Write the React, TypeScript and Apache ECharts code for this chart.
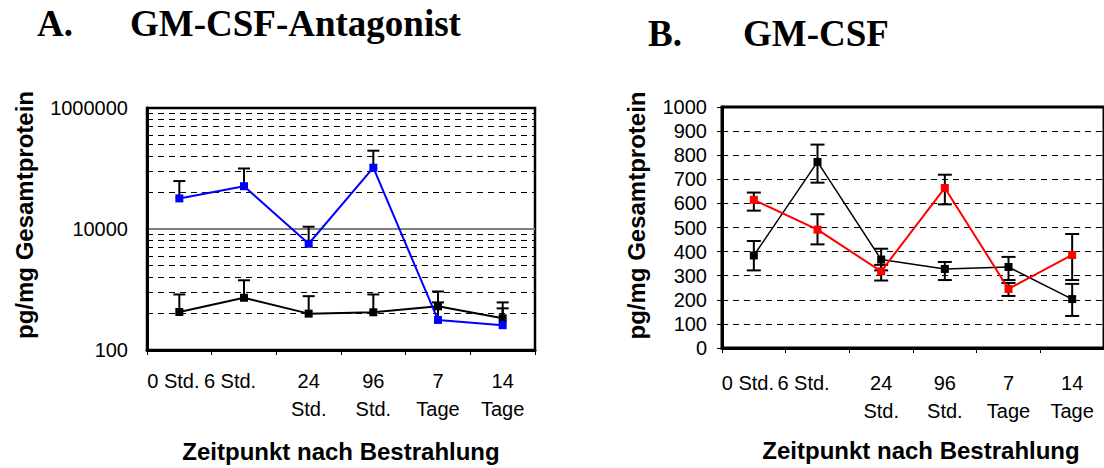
import React, { useEffect, useRef } from "react";
import * as echarts from "echarts";

const categories = ["0 Std.", "6 Std.", "24\nStd.", "96\nStd.", "7\nTage", "14\nTage"];

// Panel A (log scale)
const aBlue = [32000, 51000, 5700, 103000, 314, 257];
const aBlueUpper = [62000, 100000, 10900, 197000, 612, 488];
const aBlack = [425, 730, 399, 420, 527, 335];
const aBlackUpper = [828, 1420, 776, 828, 927, 612];
const aMinorGrid = [400, 900, 1600, 2500, 3600, 4900, 6400, 8100, 40000, 90000, 160000, 250000, 360000, 490000, 640000, 810000];
const aTicks = [100, 10000, 1000000];

// Panel B (linear scale)
const bBlack = [384, 772, 367, 328, 336, 203];
const bBlackLow = [322, 686, 322, 282, 282, 133];
const bBlackHigh = [444, 844, 412, 357, 378, 266];
const bRed = [615, 491, 318, 664, 245, 386];
const bRedLow = [570, 430, 280, 596, 216, 282];
const bRedHigh = [645, 555, 345, 719, 270, 473];

const SANS = "'Liberation Sans', Arial, sans-serif";
const SERIF = "'Liberation Serif', 'Times New Roman', serif";

function errData(low: number[], high: number[]) {
  return low.map((l, i) => [i, l, high[i]]);
}

function makeErr(capHalf: number, lowerCap: boolean) {
  return (params: any, api: any) => {
    const x = api.value(0);
    const lo = api.value(1);
    const hi = api.value(2);
    const pLo = api.coord([x, lo]);
    const pHi = api.coord([x, hi]);
    const style = { stroke: "#000", lineWidth: 2 };
    const children: any[] = [
      { type: "line", shape: { x1: pLo[0], y1: pLo[1], x2: pHi[0], y2: pHi[1] }, style },
      { type: "line", shape: { x1: pHi[0] - capHalf, y1: pHi[1], x2: pHi[0] + capHalf, y2: pHi[1] }, style },
    ];
    if (lowerCap) {
      children.push({ type: "line", shape: { x1: pLo[0] - capHalf, y1: pLo[1], x2: pLo[0] + capHalf, y2: pLo[1] }, style });
    }
    return { type: "group", children };
  };
}

export default function App() {
  const ref = useRef<HTMLDivElement>(null);
  useEffect(() => {
    if (!ref.current) return;
    const chart = echarts.init(ref.current, null, { renderer: "svg" });
    const base = { fontFamily: SANS, fontSize: 20, color: "#000", lineHeight: 28 };
    const axisLabelX = {
      ...base,
      interval: 0,
      formatter: (v: string, i: number) => (i === 0 ? `{a|${v}}` : i === 1 ? `{b|${v}}` : v),
      rich: {
        a: { ...base, padding: [0, 12, 0, 0] },
        b: { ...base, padding: [0, 28, 0, 0] },
      },
    };
    const nameStyle = { fontFamily: SANS, fontSize: 24, fontWeight: "bold" as const, color: "#000" };
    const titleFont = `bold 37px ${SERIF}`;
    chart.setOption({
      animation: false,
      backgroundColor: "#fff",
      graphic: [
        { type: "text", x: 37, y: 23, style: { text: "A.", font: titleFont, fill: "#000", verticalAlign: "middle" } },
        { type: "text", x: 130, y: 23, style: { text: "GM-CSF-Antagonist", font: titleFont, fill: "#000", verticalAlign: "middle" } },
        { type: "text", x: 648, y: 33, style: { text: "B.", font: titleFont, fill: "#000", verticalAlign: "middle" } },
        { type: "text", x: 743, y: 33, style: { text: "GM-CSF", font: titleFont, fill: "#000", verticalAlign: "middle" } },
      ],
      grid: [
        { left: 147, top: 108, width: 388, height: 244, show: true, borderColor: "#000", borderWidth: 2.5, backgroundColor: "transparent" },
        { left: 722, top: 107, width: 384, height: 241, show: true, borderColor: "#000", borderWidth: 3, backgroundColor: "transparent" },
      ],
      xAxis: [
        {
          type: "category",
          gridIndex: 0,
          data: categories,
          boundaryGap: true,
          axisLine: { lineStyle: { color: "#000", width: 3 } },
          axisTick: { show: true, length: 5, lineStyle: { color: "#000", width: 1 } },
          axisLabel: { ...axisLabelX, margin: 17 },
          name: "Zeitpunkt nach Bestrahlung",
          nameLocation: "middle",
          nameGap: 89,
          nameTextStyle: nameStyle,
        },
        {
          type: "category",
          gridIndex: 1,
          data: categories,
          boundaryGap: true,
          axisLine: { lineStyle: { color: "#000", width: 3 } },
          axisTick: { show: true, length: 5, lineStyle: { color: "#000", width: 1 } },
          axisLabel: { ...axisLabelX, margin: 21 },
          name: "Zeitpunkt nach Bestrahlung",
          nameLocation: "middle",
          nameGap: 90,
          nameTextStyle: { ...nameStyle, padding: [0, 0, 0, 16] },
        },
      ],
      yAxis: [
        {
          type: "log",
          gridIndex: 0,
          logBase: 100,
          min: aTicks[0],
          max: aTicks[2],
          axisLine: { show: true, lineStyle: { color: "#000", width: 3 } },
          axisTick: { show: false },
          axisLabel: {
            fontFamily: SANS,
            fontSize: 20,
            color: "#000",
            margin: 19,
            formatter: (v: number) => String(Math.round(v)),
          },
          splitLine: { show: true, lineStyle: { color: ["#000", "#808080", "#000"], width: 2, type: "solid" } },
          name: "pg/mg Gesamtprotein",
          nameLocation: "middle",
          nameGap: 111,
          nameTextStyle: { ...nameStyle, padding: [0, 0, 0, 28] },
        },
        {
          type: "value",
          gridIndex: 1,
          min: 0,
          max: 1000,
          interval: 100,
          axisLine: { show: true, lineStyle: { color: "#000", width: 3 } },
          axisTick: { show: true, length: 5, lineStyle: { color: "#000", width: 1 } },
          axisLabel: {
            fontFamily: SANS,
            fontSize: 20,
            color: "#000",
            margin: 15,
            formatter: (v: number) => String(v),
          },
          splitLine: { show: true, lineStyle: { color: "#000", width: 1, type: [6, 5] } },
          name: "pg/mg Gesamtprotein",
          nameLocation: "middle",
          nameGap: 74,
          nameTextStyle: { ...nameStyle, padding: [0, 0, 0, 24] },
        },
      ],
      series: [
        {
          type: "line",
          xAxisIndex: 0,
          yAxisIndex: 0,
          data: aBlack,
          symbol: "rect",
          symbolSize: 8,
          itemStyle: { color: "#000" },
          lineStyle: { color: "#000", width: 2 },
          z: 3,
          markLine: {
            silent: true,
            symbol: "none",
            label: { show: false },
            lineStyle: { color: "#000", width: 1, type: [6, 5] },
            data: aMinorGrid.map((v) => ({ yAxis: v })),
            z: 1,
          },
        },
        {
          type: "custom",
          xAxisIndex: 0,
          yAxisIndex: 0,
          data: errData(aBlack, aBlackUpper),
          renderItem: makeErr(6, false),
          z: 2,
        },
        {
          type: "custom",
          xAxisIndex: 0,
          yAxisIndex: 0,
          data: errData(aBlue, aBlueUpper),
          renderItem: makeErr(6, false),
          z: 2,
        },
        {
          type: "line",
          xAxisIndex: 0,
          yAxisIndex: 0,
          data: aBlue,
          symbol: "rect",
          symbolSize: 8,
          itemStyle: { color: "#0000ff" },
          lineStyle: { color: "#0000ff", width: 2 },
          z: 4,
        },
        {
          type: "custom",
          xAxisIndex: 1,
          yAxisIndex: 1,
          data: errData(bBlackLow, bBlackHigh),
          renderItem: makeErr(7, true),
          z: 2,
        },
        {
          type: "custom",
          xAxisIndex: 1,
          yAxisIndex: 1,
          data: errData(bRedLow, bRedHigh),
          renderItem: makeErr(7, true),
          z: 2,
        },
        {
          type: "line",
          xAxisIndex: 1,
          yAxisIndex: 1,
          data: bBlack,
          symbol: "rect",
          symbolSize: 8,
          itemStyle: { color: "#000" },
          lineStyle: { color: "#000", width: 1.5 },
          z: 3,
        },
        {
          type: "line",
          xAxisIndex: 1,
          yAxisIndex: 1,
          data: bRed,
          symbol: "rect",
          symbolSize: 8,
          itemStyle: { color: "#ff0000" },
          lineStyle: { color: "#ff0000", width: 2 },
          z: 4,
        },
      ],
    });
    return () => chart.dispose();
  }, []);
  return <div ref={ref} style={{ position: "fixed", left: 0, top: 0, width: 1104, height: 468 }} />;
}
